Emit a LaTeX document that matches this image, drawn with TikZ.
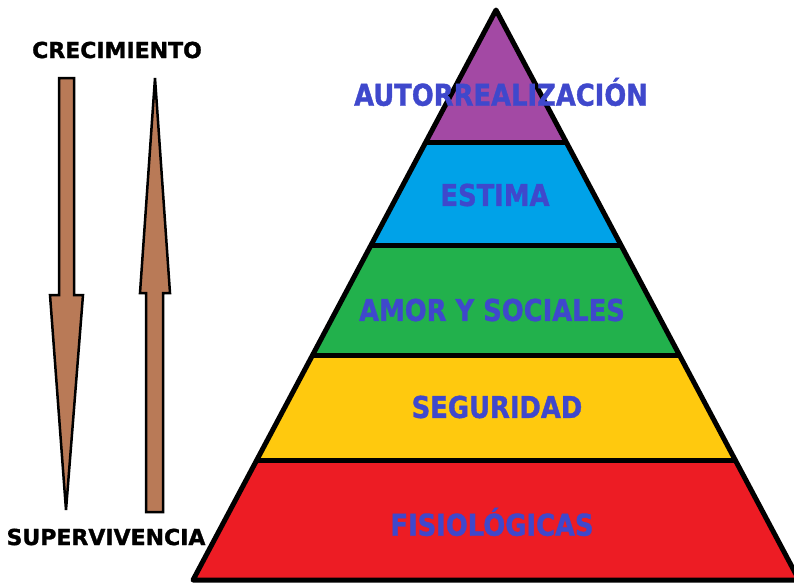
\documentclass[tikz,border=0pt]{standalone}
\usepackage{fontspec}
\usepackage{xcolor}
\usepackage{tikz}
\usetikzlibrary{calc}

\newfontfamily\levelfont[FakeStretch=0.86, FakeBold=1.2]{DejaVu Sans}
\newfontfamily\sidefont[FakeBold=1.4]{DejaVu Sans}

\definecolor{cpurple}{HTML}{A349A4}
\definecolor{cblue}{HTML}{00A2E8}
\definecolor{cgreen}{HTML}{22B14C}
\definecolor{cyellow}{HTML}{FFC90E}
\definecolor{cred}{HTML}{ED1C24}
\definecolor{titleblue}{HTML}{3F48CC}
\definecolor{arrowbrown}{HTML}{B97A57}

\begin{document}
\begin{tikzpicture}[
  x=1pt, y=-1pt,
  level/.style={font=\levelfont\bfseries\fontsize{30}{30}\selectfont,
                text=titleblue, inner sep=0pt},
  side/.style={font=\sidefont\bfseries\fontsize{22}{22}\selectfont,
               text=black, inner sep=0pt},
  edge/.style={draw=black, line width=5pt, line join=round},
  shaft/.style={draw=black, line width=2.5pt, fill=arrowbrown, line join=miter},
]
\useasboundingbox (0,0) rectangle (794,584);

% pyramid corners and band edges
\coordinate (top) at (496,10);
\coordinate (bl) at (193,580);
\coordinate (br) at (799,580);
\foreach \i/\f in {1/0.2333, 2/0.4140, 3/0.6053, 4/0.7895} {
  \coordinate (l\i) at ($(top)!\f!(bl)$);
  \coordinate (r\i) at ($(top)!\f!(br)$);
}

\fill[cpurple] (top) -- (r1) -- (l1) -- cycle;
\fill[cblue]   (l1) -- (r1) -- (r2) -- (l2) -- cycle;
\fill[cgreen]  (l2) -- (r2) -- (r3) -- (l3) -- cycle;
\fill[cyellow] (l3) -- (r3) -- (r4) -- (l4) -- cycle;
\fill[cred]    (l4) -- (r4) -- (br) -- (bl) -- cycle;
\foreach \i in {1,...,4}
  \draw[edge] (l\i) -- (r\i);
\draw[edge] (top) -- (br) -- (bl) -- cycle;

\node[level] (autor) at (501,92)  {AUTORREALIZACIÓN};
\node[level] (estima) at (495,195) {ESTIMA};
\node[level] (amor) at (492,310)   {AMOR Y SOCIALES};
\node[level] (segur) at (497,407)  {SEGURIDAD};
\node[level] (fisio) at (492,522)  {FISIOLÓGICAS};

% growth / survival arrows
\node[side] (crec) at (117,50)  {CRECIMIENTO};
\node[side] (superv) at (106,537) {SUPERVIVENCIA};

\coordinate (downtip) at (66,510);
\coordinate (uptip) at (155,78);
\draw[shaft] (59,78) -- (74,78) -- (74,295) -- (83,295) -- (downtip)
  -- (50,295) -- (59,295) -- cycle;
\draw[shaft] (146,512) -- (163,512) -- (163,293) -- (170,293) -- (uptip)
  -- (140,293) -- (146,293) -- cycle;
\end{tikzpicture}
\end{document}
